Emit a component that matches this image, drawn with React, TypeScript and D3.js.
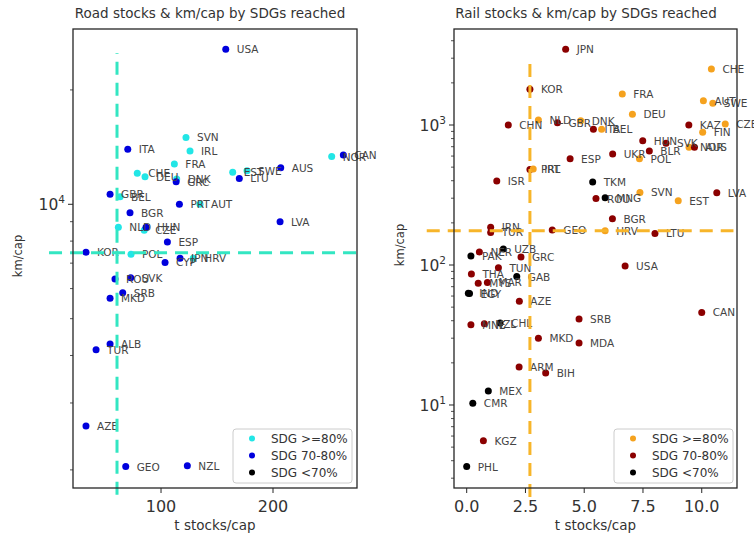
import React from "react";
import * as d3 from "d3";

// ---------- Road panel data ----------
const roadCountries = ["USA","SVN","ITA","IRL","NOR","CAN","FRA","AUS","CHE","DEU","EST","SWE","LTU","DNK","GRC","GBR","BEL","PRT","AUT","BGR","LVA","NLD","CZE","HUN","ESP","KOR","POL","CYP","JPN","HRV","ROU","SVK","SRB","MKD","ALB","TUR","AZE","GEO","NZL"];
const roadStocks = [157.8,122.3,70.3,125.9,252.4,262.8,111.9,206.9,78.8,85.7,164,176.8,169.9,114,113.5,54.5,63.4,116.4,134.8,72.3,206.3,61.9,85,86.6,105.7,33,73.2,103.6,117,128.8,58.9,72.9,65.8,54.5,54.5,42,33,68.5,123.5];
const roadKm = [25600,15000,13950,13810,13350,13480,12760,12480,12070,11820,12140,12260,11700,11650,11470,10620,10470,10000,10000,9500,9000,8700,8550,8700,7960,7480,7390,7030,7210,7210,6360,6410,5850,5660,4290,4140,2610,2040,2050];
const roadGroup = [1,0,1,0,0,1,0,1,0,0,0,0,1,0,1,1,0,1,0,1,1,0,0,1,1,1,0,1,1,0,1,1,1,1,1,1,1,1,1];

// ---------- Rail panel data ----------
const railCountries = ["JPN","CHE","KOR","FRA","AUT","SWE","DEU","NLD","CHN","GBR","DNK","KAZ","CZE","ITA","BEL","FIN","HUN","SVK","NOR","AUS","BLR","UKR","POL","ESP","PRT","IRL","ISR","TKM","SVN","LVA","ROU","MNG","EST","BGR","IRN","TUR","GEO","HRV","LTU","UZB","NER","PAK","GRC","USA","TUN","THA","GAB","MYS","MAR","IND","EGY","AZE","CAN","SRB","MNE","NZL","CHL","MKD","MDA","ARM","BIH","MEX","CMR","KGZ","PHL"];
const railStocks = [4.21,10.41,2.69,6.62,10.07,10.47,7.05,3.05,1.77,3.86,4.85,9.45,11.0,5.39,5.74,10.04,7.49,8.48,9.46,9.69,7.77,6.21,7.35,4.40,2.69,2.83,1.28,5.36,7.37,10.64,5.50,5.89,9.0,6.20,1.02,1.02,3.64,5.89,8.01,1.56,0.54,0.18,2.31,6.74,1.35,0.20,2.13,0.49,0.88,0.07,0.12,2.24,10.0,4.78,0.18,0.75,1.42,3.05,4.78,2.23,3.36,0.92,0.26,0.71,0.0];
const railKm = [3475,2512,1800,1665,1492,1430,1192,1086,1000,1038,1073,1000,1017,932,932,887,772,740,693,693,652,621,574,574,482,485,398,392,330,328,298,302,288,214,186,171,178,176,168,130,124,116,114,98.4,95.7,86.4,82.7,74,75,62.9,62.5,55.2,45.8,41.2,37.5,38,38.5,30.0,27.7,18.7,16.9,12.6,10.3,5.55,3.63];
const railGroup = [1,0,1,0,0,0,0,0,1,1,0,1,0,1,0,0,1,1,0,1,1,1,0,1,1,0,1,2,0,1,1,2,0,1,1,1,1,0,1,2,1,2,1,1,1,1,2,1,1,2,2,1,1,1,1,1,2,1,1,1,1,2,2,1,2];

const legendLabels = ["SDG >=80%", "SDG 70-80%", "SDG <70%"];
const roadColors = ["#22E6E6", "#0000DD", "#000000"];
const railColors = ["#F5A21E", "#8B0000", "#000000"];

const FONT = "DejaVu Sans, Verdana, sans-serif";

type PanelProps = {
  title: string;
  titleX: number;
  countries: string[];
  xs: number[];
  ys: number[];
  groups: number[];
  colors: string[];
  left: number; right: number; top: number; bottom: number;
  xDomain: [number, number];
  yDomain: [number, number];
  xTicks: number[];
  xFmt: (v: number) => string;
  yMajor: number[];
  vline: { x: number; y0: number; y1: number };
  hline: { y: number; x0: number; x1: number };
  dashColor: string;
  yLabelX: number;
  yLabelY: number;
  legendX: number;
};

function Panel(p: PanelProps) {
  const x = d3.scaleLinear().domain(p.xDomain).range([p.left, p.right]);
  const y = d3.scaleLog().domain(p.yDomain).range([p.bottom, p.top]);
  const [ylo, yhi] = p.yDomain;
  const minor: number[] = [];
  for (let e = Math.floor(Math.log10(ylo)); e <= Math.ceil(Math.log10(yhi)); e++) {
    for (let k = 2; k <= 9; k++) {
      const v = k * Math.pow(10, e);
      if (v >= ylo && v <= yhi) minor.push(v);
    }
  }
  const majors = p.yMajor.filter(v => v >= ylo && v <= yhi);
  const axisColor = "#262626";
  const textColor = "#333";
  const lgTop = 429, lgH = 54, lgW = 119;
  return (
    <g>
      <text x={p.titleX} y={18} textAnchor="middle" fontFamily={FONT} fontSize={13.5} fill={textColor}>{p.title}</text>
      {/* points */}
      {p.countries.map((c, i) => (
        <circle key={"c" + i} cx={x(p.xs[i])} cy={y(p.ys[i])} r={3.5} fill={p.colors[p.groups[i]]} />
      ))}
      {p.countries.map((c, i) => (
        <text key={"t" + i} x={x(p.xs[i]) + 11} y={y(p.ys[i]) + 4} fontFamily={FONT} fontSize={10.5} fill="#444">{c}</text>
      ))}
      {/* dashed guide lines */}
      <line x1={x(p.vline.x)} x2={x(p.vline.x)} y1={y(p.vline.y0)} y2={y(p.vline.y1)} stroke={p.dashColor} strokeWidth={3} strokeDasharray="13,8" />
      <line x1={x(p.hline.x0)} x2={x(p.hline.x1)} y1={y(p.hline.y)} y2={y(p.hline.y)} stroke={p.dashColor} strokeWidth={3} strokeDasharray="13,8" />
      {/* frame */}
      <rect x={p.left} y={p.top} width={p.right - p.left} height={p.bottom - p.top} fill="none" stroke={axisColor} strokeWidth={1.3} />
      {/* x ticks */}
      {p.xTicks.map((t, i) => (
        <g key={"xt" + i}>
          <line x1={x(t)} x2={x(t)} y1={p.bottom} y2={p.bottom + 5} stroke={axisColor} strokeWidth={1} />
          <text x={x(t)} y={p.bottom + 24} textAnchor="middle" fontFamily={FONT} fontSize={16} fill={textColor}>{p.xFmt(t)}</text>
        </g>
      ))}
      <text x={(p.left + p.right) / 2} y={530} textAnchor="middle" fontFamily={FONT} fontSize={13.5} fill={textColor}>t stocks/cap</text>
      {/* y ticks */}
      {minor.map((t, i) => (
        <line key={"ym" + i} x1={p.left - 3} x2={p.left} y1={y(t)} y2={y(t)} stroke={axisColor} strokeWidth={0.8} />
      ))}
      {majors.map((t, i) => (
        <g key={"yM" + i}>
          <line x1={p.left - 5} x2={p.left} y1={y(t)} y2={y(t)} stroke={axisColor} strokeWidth={1} />
          <text x={p.left - 8} y={y(t) + 6} textAnchor="end" fontFamily={FONT} fontSize={15.5} fill={textColor}>
            10<tspan fontSize={10.5} dy={-7}>{Math.round(Math.log10(t))}</tspan>
          </text>
        </g>
      ))}
      <text transform={`translate(${p.yLabelX},${p.yLabelY}) rotate(-90)`} textAnchor="middle" fontFamily={FONT} fontSize={11.5} fill={textColor}>km/cap</text>
      {/* legend */}
      <rect x={p.legendX} y={lgTop} width={lgW} height={lgH} rx={3} fill="white" fillOpacity={0.85} stroke="#cccccc" strokeWidth={1} />
      {legendLabels.map((l, i) => (
        <g key={"lg" + i}>
          <circle cx={p.legendX + 19} cy={lgTop + 9.5 + i * 17} r={3} fill={p.colors[i]} />
          <text x={p.legendX + 38} y={lgTop + 14 + i * 17} fontFamily={FONT} fontSize={12} fill={textColor}>{l}</text>
        </g>
      ))}
    </g>
  );
}

export default function App() {
  return (
    <svg width={754} height={536} style={{ position: "absolute", left: 0, top: 0, background: "white" }}>
      <rect x={0} y={0} width={754} height={536} fill="white" />
      <Panel
        title="Road stocks & km/cap by SDGs reached"
        titleX={210}
        countries={roadCountries}
        xs={roadStocks}
        ys={roadKm}
        groups={roadGroup}
        colors={roadColors}
        left={73} right={357} top={29} bottom={488}
        xDomain={[21.4, 275]}
        yDomain={[1792, 28930]}
        xTicks={[100, 200]}
        xFmt={(v) => String(v)}
        yMajor={[1000, 10000, 100000]}
        vline={{ x: 60.7, y0: 1720, y1: 25000 }}
        hline={{ y: 7460, x0: 0, x1: 275 }}
        dashColor="#33E6C2"
        yLabelX={22}
        yLabelY={256}
        legendX={233}
      />
      <Panel
        title="Rail stocks & km/cap by SDGs reached"
        titleX={586}
        countries={railCountries}
        xs={railStocks}
        ys={railKm}
        groups={railGroup}
        colors={railColors}
        left={454} right={737} top={29} bottom={488}
        xDomain={[-0.54, 11.5]}
        yDomain={[2.553, 4851]}
        xTicks={[0, 2.5, 5, 7.5, 10]}
        xFmt={(v) => v.toFixed(1)}
        yMajor={[1, 10, 100, 1000]}
        vline={{ x: 2.69, y0: 2.2, y1: 3110 }}
        hline={{ y: 176, x0: -1.7, x1: 11.35 }}
        dashColor="#F7B52A"
        yLabelX={404}
        yLabelY={245}
        legendX={614}
      />
    </svg>
  );
}
